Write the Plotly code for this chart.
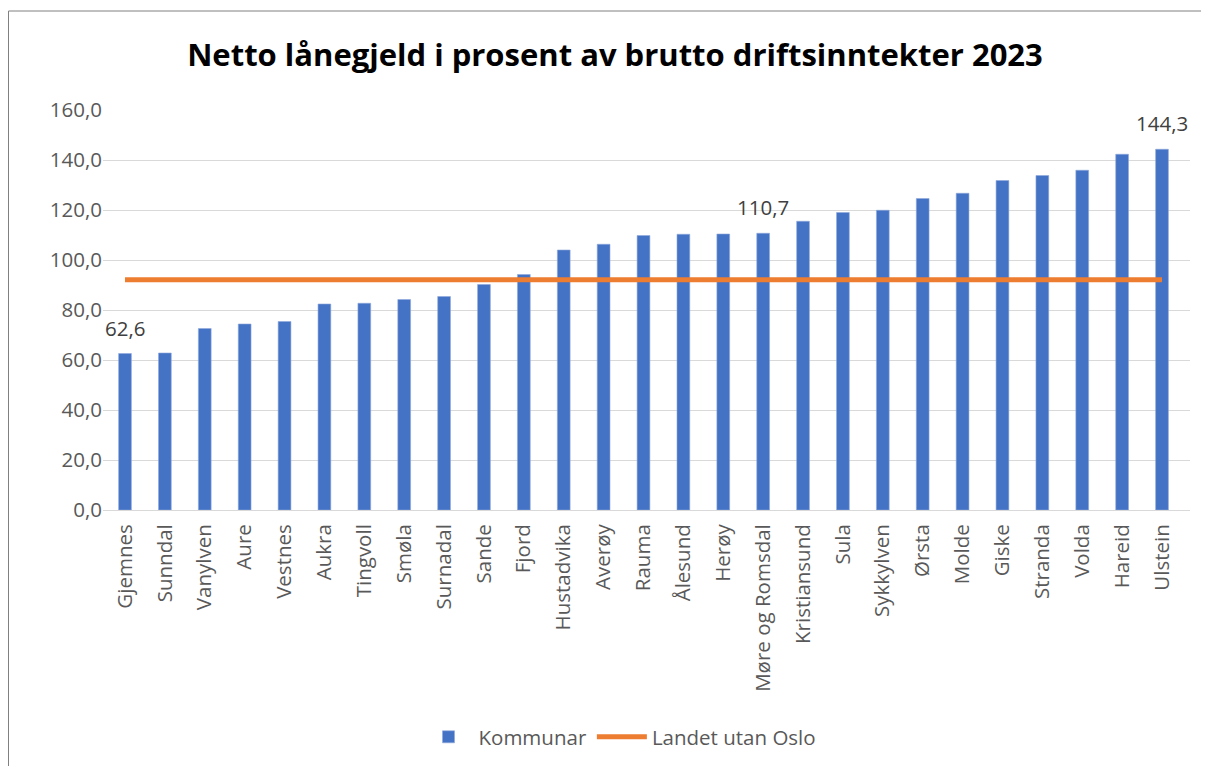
import plotly.graph_objects as go

kommunar = ["Gjemnes", "Sunndal", "Vanylven", "Aure", "Vestnes", "Aukra", "Tingvoll",
            "Smøla", "Surnadal", "Sande", "Fjord", "Hustadvika", "Averøy", "Rauma",
            "Ålesund", "Herøy", "Møre og Romsdal", "Kristiansund", "Sula", "Sykkylven",
            "Ørsta", "Molde", "Giske", "Stranda", "Volda", "Hareid", "Ulstein"]
verdiar = [62.6, 62.8, 72.6, 74.4, 75.4, 82.4, 82.7, 84.2, 85.4, 90.2, 94.2, 104.0,
           106.3, 109.8, 110.3, 110.4, 110.7, 115.5, 119.0, 119.9, 124.6, 126.7,
           131.8, 133.8, 135.9, 142.3, 144.3]
landet_utan_oslo = 92.1
merka = ["Gjemnes", "Møre og Romsdal", "Ulstein"]

FONT = "Open Sans"
FS = 20.5

fig = go.Figure()
fig.add_trace(go.Bar(
    x=kommunar, y=verdiar, name="Kommunar",
    marker=dict(color="#4472C4", line=dict(color="#8EA9DB", width=0.6)),
))
fig.add_trace(go.Scatter(
    x=kommunar, y=[landet_utan_oslo] * len(kommunar), name="Landet utan Oslo",
    mode="lines", line=dict(color="#ED7D31", width=5),
))

for k, v in zip(kommunar, verdiar):
    if k in merka:
        fig.add_annotation(x=k, y=v, text=f"{v:.1f}".replace(".", ","),
                           showarrow=False, yanchor="bottom", yshift=10,
                           font=dict(size=FS, color="#404040", family=FONT))

# plot area in figure px: x 95..1182, y 102..502
L, R, T, B = 95, 1182, 102, 502
W, H = R - L, B - T

fig.update_layout(
    width=1209, height=766,
    paper_bgcolor="white", plot_bgcolor="white",
    margin=dict(l=L, r=1209 - R, t=T, b=766 - B),
    separators=", ",
    bargap=0.68,
    title=dict(text="<b>Netto lånegjeld i prosent av brutto driftsinntekter 2023</b>",
               x=607 / 1209, xanchor="center", y=1 - 47 / 766, yanchor="middle",
               font=dict(size=31, color="black", family=FONT)),
    font=dict(family=FONT, color="#595959", size=FS),
    legend=dict(orientation="h", x=(612 - L) / W, xanchor="center",
                y=(B - 729) / H, yanchor="middle",
                font=dict(size=FS, color="#595959", family=FONT), itemwidth=50),
    showlegend=True,
)
fig.update_xaxes(tickangle=-90, tickfont=dict(size=FS, color="#595959", family=FONT),
                 showline=True, linecolor="#D9D9D9", linewidth=1, ticks="",
                 ticklabelstandoff=5)
fig.update_yaxes(range=[0, 160], dtick=20, tickformat=".1f",
                 gridcolor="#D9D9D9", gridwidth=1, zeroline=False,
                 tickfont=dict(size=FS, color="#595959", family=FONT), ticks="")
fig.add_shape(type="rect", xref="paper", yref="paper",
              x0=(0.5 - L) / W, x1=(1195 - L) / W, y0=-300 / H, y1=(B - 3) / H,
              line=dict(color="#808080", width=1), fillcolor="rgba(0,0,0,0)")

fig.write_html("out.html")
